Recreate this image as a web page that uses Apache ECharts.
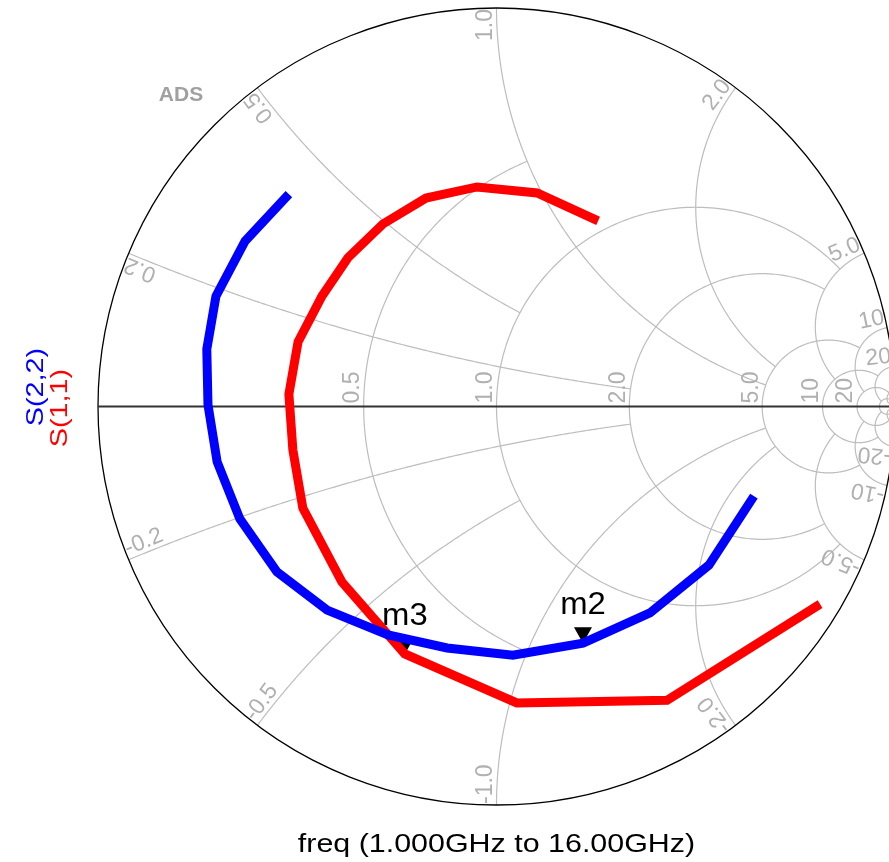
<!DOCTYPE html>
<html>
<head>
<meta charset="utf-8">
<script src="https://cdn.jsdelivr.net/npm/echarts@6/dist/echarts.min.js"></script>
<style>
  html, body { margin: 0; padding: 0; background: #fff; overflow: hidden; }
  #chart { width: 889px; height: 862px; }
</style>
</head>
<body>
<div id="chart"></div>
<script>
// Frequency sweep, GHz
const freqGHz = [1, 2, 3, 4, 5, 6, 7, 8, 9, 10, 11, 12, 13, 14, 15, 16];

// S(1,1) reflection coefficient (real / imaginary)
const s11Re = [0.255, 0.102, -0.049, -0.177, -0.285, -0.373, -0.438, -0.498,
               -0.521, -0.511, -0.486, -0.388, -0.230, 0.051, 0.428, 0.812];
const s11Im = [0.466, 0.536, 0.551, 0.523, 0.458, 0.373, 0.277, 0.162,
               0.031, -0.109, -0.255, -0.440, -0.621, -0.744, -0.737, -0.496];

// S(2,2) reflection coefficient (real / imaginary)
const s22Re = [-0.521, -0.631, -0.704, -0.727, -0.724, -0.701, -0.644, -0.551,
               -0.425, -0.272, -0.124, 0.041, 0.217, 0.385, 0.533, 0.646];
const s22Im = [0.533, 0.415, 0.277, 0.144, 0.004, -0.139, -0.282, -0.415,
               -0.511, -0.573, -0.606, -0.624, -0.594, -0.518, -0.398, -0.225];

// Smith grid: constant-resistance circles and the |reactance| where each stops
const resistanceValues = [0.5, 1, 2, 5, 10, 20, 50];
const resistanceStop   = [1, 5, 5, 10, 20, 50, 100];
// Constant-reactance arcs and the resistance where each stops
const reactanceValues  = [0.2, 0.5, 1, 2, 5, 10, 20, 50];
const reactanceStop    = [2, 1, 5, 5, 10, 20, 50, 100];

// Tick labels drawn on the real axis and around the rim
const resistanceLabels = ['0.5', '1.0', '2.0', '5.0', '10', '20'];
const reactanceLabels  = ['0.2', '0.5', '1.0', '2.0', '5.0', '10', '20'];

// Markers: name, trace, sample index
const markerNames  = ['m3', 'm2'];
const markerTraces = ['S(1,1)', 'S(2,2)'];
const markerIndex  = [12, 12];

const traces = {
  'S(1,1)': { re: s11Re, im: s11Im, color: '#ff0000' },
  'S(2,2)': { re: s22Re, im: s22Im, color: '#0000ff' }
};

const FONT = "'Liberation Sans', Arial, Helvetica, sans-serif";

// Plot geometry: chart centre and radius in pixels; the right rim runs past the page edge
const CX = 496.5, CY = 406.5, RAD = 398.5, PAGE_W = 889;
const X_MAX = (PAGE_W - CX) / RAD;

// z = r + jx  ->  reflection coefficient
function gammaOf(r, x) {
  const d = (r + 1) * (r + 1) + x * x;
  return [(r * r - 1 + x * x) / d, (2 * x) / d];
}

function resistanceArc(r, xStop, n) {
  const c = r / (1 + r), a = 1 / (1 + r);
  const g = gammaOf(r, xStop);
  const phiEnd = Math.atan2(g[1], g[0] - c);
  const pts = [];
  for (let k = 0; k <= n; k++) {
    const phi = phiEnd + (2 * Math.PI - 2 * phiEnd) * k / n;
    pts.push([c + a * Math.cos(phi), a * Math.sin(phi)]);
  }
  return pts;
}

function reactanceArc(x, rStop, n) {
  const cy = 1 / x, rad = Math.abs(1 / x);
  const g0 = gammaOf(0, x), g1 = gammaOf(rStop, x);
  const a0 = Math.atan2(g0[1] - cy, g0[0] - 1);
  const a1 = Math.atan2(g1[1] - cy, g1[0] - 1);
  let d = a1 - a0;
  while (d > Math.PI) d -= 2 * Math.PI;
  while (d < -Math.PI) d += 2 * Math.PI;
  const pts = [];
  for (let k = 0; k <= n; k++) {
    const t = a0 + d * k / n;
    pts.push([1 + rad * Math.cos(t), cy + rad * Math.sin(t)]);
  }
  return pts;
}

function renderSmithGrid(params, api) {
  const toPx = p => api.coord(p);
  const children = [];
  const gridStyle = { stroke: '#bdbdbd', lineWidth: 1.2, fill: null };
  const labelStyle = (text, align) => ({
    text: text, fill: '#b0b0b0', fontSize: 23, fontFamily: FONT,
    align: align, verticalAlign: 'middle'
  });

  resistanceValues.forEach((r, i) => {
    children.push({ type: 'polyline', silent: true,
      shape: { points: resistanceArc(r, resistanceStop[i], 240).map(toPx) },
      style: gridStyle });
  });
  reactanceValues.forEach((x, i) => {
    [x, -x].forEach(v => {
      children.push({ type: 'polyline', silent: true,
        shape: { points: reactanceArc(v, reactanceStop[i], 200).map(toPx) },
        style: gridStyle });
    });
  });

  // rim and real axis
  const c0 = api.coord([0, 0]), c1 = api.coord([1, 0]), cl = api.coord([-1, 0]);
  children.push({ type: 'circle', silent: true,
    shape: { cx: c0[0], cy: c0[1], r: c1[0] - c0[0] },
    style: { stroke: '#000', lineWidth: 1.3, fill: null } });
  children.push({ type: 'line', silent: true,
    shape: { x1: cl[0], y1: cl[1], x2: c1[0], y2: c1[1] },
    style: { stroke: '#333', lineWidth: 2 } });

  // resistance labels along the real axis
  resistanceLabels.forEach((t, i) => {
    const r = resistanceValues[i];
    const p = api.coord([(r - 1) / (r + 1), 0]);
    children.push({ type: 'text', silent: true, x: p[0], y: p[1] - 3,
      rotation: Math.PI / 2,
      style: Object.assign(labelStyle(t, 'left'), { x: 0, y: -11 }) });
  });

  // reactance labels around the rim
  reactanceLabels.forEach((t, i) => {
    const x = reactanceValues[i];
    const gp = gammaOf(0, x);
    const th = Math.atan2(gp[1], gp[0]);
    const pp = api.coord(gp);
    children.push({ type: 'text', silent: true, x: pp[0], y: pp[1],
      rotation: th,
      style: Object.assign(labelStyle(t, 'right'), { x: -1, y: -10.5 }) });
    const gn = gammaOf(0, -x);
    const pn = api.coord(gn);
    children.push({ type: 'text', silent: true, x: pn[0], y: pn[1],
      rotation: Math.PI - th,
      style: Object.assign(labelStyle('-' + t, 'left'), { x: 1, y: -10.5 }) });
  });

  return { type: 'group', children: children };
}

function renderMarker(params, api) {
  const p = api.coord([api.value(0), api.value(1)]);
  return {
    type: 'group',
    children: [
      { type: 'polygon', shape: { points: [[p[0] - 9, p[1] - 16], [p[0] + 9, p[1] - 16], [p[0], p[1]]] },
        style: { fill: '#000' } },
      { type: 'text', x: p[0], y: p[1] - 38, scaleX: 1.06,
        style: { text: api.value(2), fill: '#000', fontSize: 31, fontFamily: FONT,
                 align: 'center', verticalAlign: 'middle' } }
    ]
  };
}

function markerData(traceName) {
  const out = [];
  markerNames.forEach((n, i) => {
    if (markerTraces[i] !== traceName) return;
    const tr = traces[traceName];
    const k = markerIndex[i];
    out.push([tr.re[k], tr.im[k], n, freqGHz[k]]);
  });
  return out;
}

function traceSeries(name) {
  const tr = traces[name];
  return {
    name: name, type: 'line', silent: true,
    data: tr.re.map((v, i) => [v, tr.im[i]]),
    showSymbol: false, symbol: 'none',
    lineStyle: { color: tr.color, width: 9, cap: 'butt', join: 'miter' },
    clip: false
  };
}

const chart = echarts.init(document.getElementById('chart'), null, { renderer: 'canvas' });

chart.setOption({
  animation: false,
  backgroundColor: '#fff',
  grid: { left: CX - RAD, top: CY - RAD, width: PAGE_W - (CX - RAD), height: 2 * RAD },
  xAxis: { type: 'value', min: -1, max: X_MAX, show: false },
  yAxis: { type: 'value', min: -1, max: 1, show: false },
  series: [
    { name: 'grid', type: 'custom', renderItem: renderSmithGrid, data: [[0, 0]], clip: false, silent: true },
    traceSeries('S(1,1)'),
    { name: 'S(1,1) markers', type: 'custom', renderItem: renderMarker,
      data: markerData('S(1,1)'), clip: false, silent: true },
    traceSeries('S(2,2)'),
    { name: 'S(2,2) markers', type: 'custom', renderItem: renderMarker,
      data: markerData('S(2,2)'), clip: false, silent: true }
  ],
  graphic: [
    { type: 'text', x: 181, y: 95, silent: true,
      style: { text: 'ADS', fill: '#a0a0a0', fontSize: 21, fontWeight: 'bold', fontFamily: FONT,
               align: 'center', verticalAlign: 'middle', shadowBlur: 4, shadowColor: '#888' } },
    { type: 'text', x: 36, y: 387, rotation: Math.PI / 2, scaleX: 1.2, silent: true,
      style: { text: 'S(2,2)', fill: '#0000ff', fontSize: 24, fontFamily: FONT,
               align: 'center', verticalAlign: 'middle' } },
    { type: 'text', x: 60, y: 408, rotation: Math.PI / 2, scaleX: 1.2, silent: true,
      style: { text: 'S(1,1)', fill: '#ff0000', fontSize: 24, fontFamily: FONT,
               align: 'center', verticalAlign: 'middle' } },
    { type: 'text', x: 496.5, y: 845, scaleX: 1.17, silent: true,
      style: { text: 'freq (' + freqGHz[0].toFixed(3) + 'GHz to ' + freqGHz[freqGHz.length - 1].toFixed(2) + 'GHz)',
               fill: '#000', fontSize: 26, fontFamily: FONT, align: 'center', verticalAlign: 'middle' } }
  ]
});
</script>
</body>
</html>
